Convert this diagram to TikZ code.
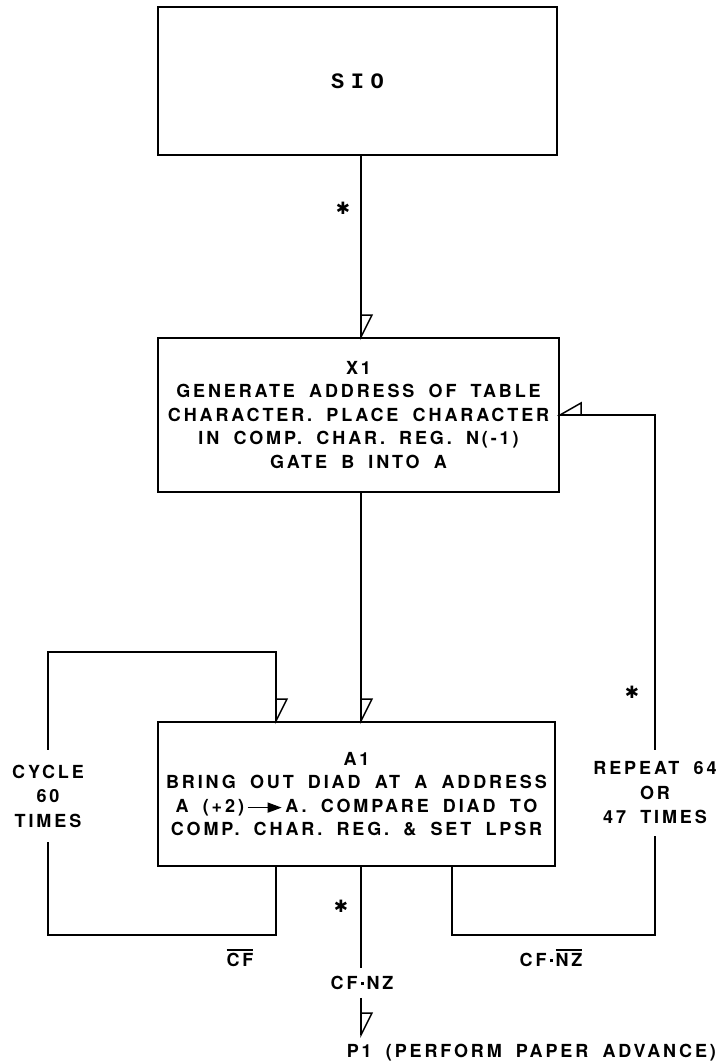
\documentclass[tikz,border=0pt]{standalone}
\usepackage{fontspec}
\setmainfont{TeX Gyre Heros}[LetterSpace=16, WordSpace=1.8]
\newfontfamily\siofont{Liberation Mono}[LetterSpace=30]
\newfontfamily\symfont{DejaVu Sans}
\usetikzlibrary{arrows.meta}

\tikzset{
  blk/.style={draw, line width=2pt, align=center, inner sep=0pt,
    font=\bfseries\fontsize{18}{23.5}\selectfont},
  lbl/.style={align=center, inner sep=0pt,
    font=\bfseries\fontsize{18}{24.5}\selectfont},
  astk/.style={inner sep=0pt, font=\symfont\bfseries\fontsize{17}{17}\selectfont},
  flag/.style={line width=1.5pt, line join=miter}
}
\newcommand{\flagdown}[1]{\draw[flag] (#1) -- ++(0,-22) -- ++(11,0) -- cycle;}
\newcommand{\flagleft}[1]{\draw[flag] (#1) -- ++(21,0) -- ++(0,-12) -- cycle;}
\newcommand{\ovl}[1]{\leavevmode\vbox{\hrule height 1.7pt\kern 2.5pt\hbox{#1}}}
\newcommand{\dotb}{\,\raisebox{4.5pt}{\rule{3pt}{3pt}}\,}
\newcommand{\gateto}{\tikz[baseline=-4.5pt]\draw[line width=1.3pt,-{Triangle[length=14pt,width=10pt]}] (0pt,0pt) -- (34pt,0pt);}

\begin{document}
\begin{tikzpicture}[x=1pt, y=-1pt, line width=1.6pt]
  \useasboundingbox (0,0) rectangle (726,1062);
  \coordinate (spine) at (361,0);
  \coordinate (ltop) at (276,652);
  \coordinate (lloop) at (276,935);
  \coordinate (rloop) at (452,935);

  % SIO
  \node[blk, minimum width=399pt, minimum height=148pt] (sio) at (357.5,81)
    {\siofont\bfseries\fontsize{22}{22}\selectfont SIO};

  % X1
  \node[blk, minimum width=401pt, minimum height=154pt] (x1) at (358.5,415)
    {X1\\ GENERATE ADDRESS OF TABLE\\ CHARACTER. PLACE CHARACTER\\
     IN COMP. CHAR. REG. N(-1)\\ GATE B INTO A};

  % A1
  \node[blk, minimum width=397pt, minimum height=144pt] (a1) at (356.5,794)
    {A1\\ BRING OUT DIAD AT A ADDRESS\\ A (+2)\,\gateto\,A. COMPARE DIAD TO\\
     COMP. CHAR. REG. \& SET LPSR};

  % loop labels
  \node[lbl, outer ysep=15pt] (cyc) at (48,796) {CYCLE\\60\\TIMES};
  \node[lbl, outer ysep=12pt] (rep) at (655,793) {REPEAT 64\\OR\\47 TIMES};
  \node[lbl, outer ysep=8pt] (cfnz) at (362,983) {CF\dotb NZ};
  \node[lbl] (cfb) at (240,958) {\ovl{CF}};
  \node[lbl] (cfnzb) at (551,958) {CF\dotb\ovl{NZ}};
  \node[lbl, anchor=north west, outer ysep=9pt] (p1) at (346,1035)
    {P1 (PERFORM PAPER ADVANCE)};

  % stars
  \node[astk] (st1) at (343,208) {✱};
  \node[astk] (st2) at (632,692) {✱};
  \node[astk] (st3) at (341,906) {✱};

  % main flow
  \draw (sio.south -| spine) -- (x1.north -| spine);
  \flagdown{x1.north -| spine}
  \draw (x1.south -| spine) -- (a1.north -| spine);
  \flagdown{a1.north -| spine}
  \draw (a1.south -| spine) -- (cfnz.north -| spine);
  \draw (cfnz.south -| spine) -- (p1.north -| spine);
  \flagdown{p1.north -| spine}

  % cycle loop
  \draw (lloop |- a1.south) -- (lloop) -| (cyc.south);
  \draw (cyc.north) |- (ltop) -- (ltop |- a1.north);
  \flagdown{ltop |- a1.north}

  % repeat loop
  \draw (rloop |- a1.south) -- (rloop) -| (rep.south);
  \draw (rep.north) |- (x1.east);
  \flagleft{x1.east}
\end{tikzpicture}
\end{document}
